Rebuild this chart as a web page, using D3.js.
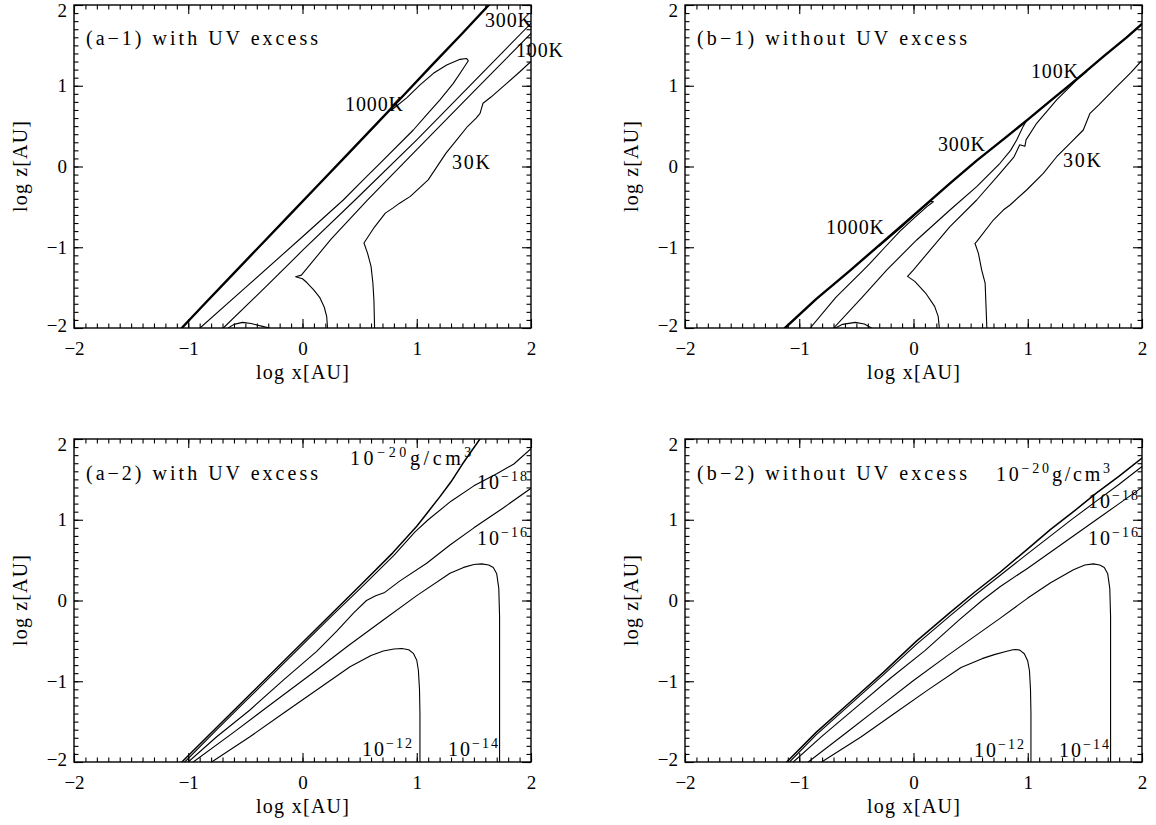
<!DOCTYPE html>
<html>
<head>
<meta charset="utf-8">
<script src="https://cdn.jsdelivr.net/npm/d3@7/dist/d3.min.js"></script>
<style>
html,body{margin:0;padding:0;background:#fff;}
svg{display:block;}
</style>
</head>
<body>
<svg id="chart" width="1156" height="825"></svg>
<script>
// ================= DATA =================
const xTickValues = [-2, -1, 0, 1, 2];
const xTickLabels = ["−2", "−1", "0", "1", "2"];
const yTickValues = [-2, -1, 0, 1, 2];
const yTickLabels = ["−2", "−1", "0", "1", "2"];
const xTitle = "log x[AU]";
const yTitle = "log z[AU]";

// (a-1) temperature contours, with UV excess   [log x, log z]
const a1Surface = [[-1.057,-2],[-0.85,-1.69],[-0.6,-1.32],[-0.35,-0.95],[-0.1,-0.58],[0.15,-0.21],[0.4,0.16],[0.65,0.53],[0.91,0.92],[1.15,1.28],[1.4,1.65],[1.631,2]];
const a1T1000 = [[-0.897,-2],[-0.5,-1.5],[0,-0.87],[0.357,-0.415],[0.532,-0.167],[0.678,0.039],[0.97,0.452],[1.086,0.638],[1.203,0.824],[1.32,1.03],[1.41,1.22],[1.451,1.31],[1.435,1.338],[1.379,1.327],[1.262,1.257],[1.146,1.154],[1.029,1.01],[0.912,0.85],[0.78,0.70]];
const a1T300 = [[-0.693,-2],[-0.3,-1.46],[0,-1.04],[0.46,-0.415],[1.0,0.33],[1.5,1.05],[2.0,1.773]];
const a1T100 = [[0.219,-2],[0.212,-1.86],[0.19,-1.74],[0.15,-1.62],[0.1,-1.53],[0.04,-1.44],[0.0,-1.39],[-0.06,-1.365],[-0.01,-1.345],[0.25,-0.9],[0.568,-0.415],[1.0,0.21],[1.5,0.93],[2.0,1.649]];
const a1T30 = [[0.631,-2],[0.625,-1.65],[0.616,-1.443],[0.6,-1.237],[0.569,-1.072],[0.538,-0.948],[0.63,-0.75],[0.725,-0.577],[0.79,-0.515],[0.85,-0.454],[0.944,-0.37],[1.1,-0.165],[1.256,0.165],[1.35,0.33],[1.444,0.495],[1.52,0.6],[1.554,0.659],[1.58,0.783],[1.65,0.86],[1.787,1.03],[1.9,1.17],[2.0,1.3]];
const a1Arc = [[-0.65,-2],[-0.6,-1.955],[-0.525,-1.93],[-0.45,-1.945],[-0.35,-1.98],[-0.29,-2]];

// (b-1) temperature contours, without UV excess
const b1Surface = [[-1.125,-2],[-0.85,-1.64],[-0.556,-1.29],[-0.264,-0.93],[0.02,-0.58],[0.319,-0.21],[0.55,0.07],[0.816,0.37],[1.0,0.58],[1.195,0.81],[1.35,0.99],[1.486,1.15],[1.661,1.36],[1.866,1.6],[2.0,1.765]];
const b1T1000 = [[-0.904,-2],[-0.68,-1.62],[-0.439,-1.282],[-0.381,-1.2],[-0.25,-1.0],[-0.118,-0.8],[0.0,-0.645],[0.115,-0.5],[0.174,-0.436],[0.15,-0.43],[0.05,-0.55],[-0.1,-0.745],[-0.3,-0.985]];
const b1T300 = [[-0.699,-2],[-0.45,-1.62],[-0.235,-1.282],[0.028,-0.91],[0.319,-0.539],[0.553,-0.25],[0.757,0.04],[0.85,0.2],[0.903,0.328],[0.961,0.5],[0.99,0.57]];
const b1T100 = [[0.226,-2],[0.216,-1.856],[0.185,-1.732],[0.106,-1.567],[0.011,-1.423],[-0.052,-1.361],[-0.002,-1.282],[0.319,-0.745],[0.553,-0.415],[0.757,-0.084],[0.88,0.12],[0.93,0.27],[0.975,0.25],[0.985,0.33],[1.078,0.535],[1.253,0.824],[1.428,1.071],[1.516,1.174]];
const b1T30 = [[0.642,-2],[0.627,-1.443],[0.597,-1.282],[0.568,-1.075],[0.538,-0.951],[0.553,-0.931],[0.699,-0.663],[0.786,-0.539],[0.845,-0.477],[0.99,-0.291],[1.136,-0.084],[1.253,0.121],[1.37,0.287],[1.486,0.452],[1.545,0.659],[1.62,0.76],[1.779,0.988],[1.9,1.16],[1.997,1.31]];
const b1Arc = [[-0.684,-2],[-0.62,-1.955],[-0.51,-1.93],[-0.43,-1.95],[-0.368,-2]];

// (a-2) density contours, with UV excess
const a2D20 = [[-1.056,-2],[-0.75,-1.57],[-0.5,-1.22],[-0.25,-0.87],[0,-0.52],[0.25,-0.17],[0.5,0.18],[0.79,0.59],[1.0,0.92],[1.1,1.1],[1.2,1.28],[1.3,1.47],[1.4,1.69],[1.553,2]];
const a2D18 = [[-1.03,-2],[-0.75,-1.6],[-0.5,-1.25],[-0.25,-0.9],[0,-0.55],[0.25,-0.2],[0.5,0.14],[0.8,0.56],[0.985,0.85],[1.1,1.0],[1.3,1.23],[1.5,1.42],[1.7,1.57],[1.85,1.69],[2.0,1.88]];
const a2D16 = [[-1.0,-2],[-0.751,-1.687],[-0.46,-1.356],[-0.168,-0.985],[0.124,-0.63],[0.3,-0.38],[0.45,-0.15],[0.56,0.0],[0.64,0.06],[0.72,0.1],[0.85,0.24],[1.087,0.461],[1.291,0.687],[1.5,0.9],[1.75,1.14],[2.0,1.39]];
const a2D14 = [[-0.956,-2],[-0.6,-1.63],[-0.3,-1.31],[0.124,-0.861],[0.4,-0.56],[0.707,-0.241],[1.0,0.06],[1.291,0.337],[1.41,0.41],[1.5,0.445],[1.569,0.454],[1.63,0.44],[1.67,0.41],[1.7,0.33],[1.718,0.15],[1.725,-0.2],[1.725,-2]];
const a2D12 = [[-0.795,-2],[-0.46,-1.687],[-0.168,-1.397],[0.124,-1.108],[0.416,-0.82],[0.6,-0.68],[0.707,-0.625],[0.8,-0.6],[0.87,-0.595],[0.93,-0.61],[0.97,-0.654],[1.0,-0.74],[1.014,-0.861],[1.024,-1.1],[1.028,-1.4],[1.028,-2]];

// (b-2) density contours, without UV excess
const b2D20 = [[-1.11,-2],[-0.85,-1.63],[-0.556,-1.26],[-0.264,-0.89],[0.028,-0.5],[0.319,-0.15],[0.523,0.09],[0.757,0.35],[1.0,0.64],[1.2,0.88],[1.4,1.1],[1.6,1.33],[1.8,1.54],[2.0,1.765]];
const b2D18 = [[-1.085,-2],[-0.85,-1.66],[-0.556,-1.29],[-0.264,-0.92],[0.028,-0.54],[0.319,-0.19],[0.523,0.05],[0.757,0.31],[1.0,0.58],[1.2,0.8],[1.4,1.02],[1.6,1.23],[1.8,1.44],[2.0,1.66]];
const b2D16 = [[-1.052,-2],[-0.8,-1.68],[-0.5,-1.32],[-0.2,-0.96],[0.1,-0.62],[0.4,-0.24],[0.6,0.0],[0.757,0.171],[1.0,0.4],[1.3,0.7],[1.6,1.0],[1.8,1.2],[2.0,1.4]];
const b2D14 = [[-0.921,-2],[-0.6,-1.65],[-0.3,-1.32],[0.0,-0.99],[0.3,-0.68],[0.757,-0.221],[1.0,0.03],[1.2,0.22],[1.4,0.38],[1.5,0.44],[1.574,0.454],[1.63,0.44],[1.67,0.41],[1.7,0.33],[1.718,0.15],[1.725,-0.2],[1.725,-2]];
const b2D12 = [[-0.804,-2],[-0.46,-1.69],[-0.168,-1.4],[0.124,-1.11],[0.416,-0.83],[0.6,-0.72],[0.707,-0.67],[0.8,-0.635],[0.87,-0.61],[0.895,-0.606],[0.93,-0.615],[0.97,-0.66],[1.0,-0.75],[1.015,-0.87],[1.024,-1.1],[1.028,-1.4],[1.028,-2]];

// ================= LAYOUT =================
const FONT = "'Liberation Serif','Times New Roman',serif";
const W = 457, H = 323;
const THICK = 2.4, THIN = 1.1;

const panels = [
  { id: "a1", left: 74, top: 5,
    lines: [[a1Surface, THICK], [a1T1000, THIN], [a1T300, THIN], [a1T100, THIN], [a1T30, THIN], [a1Arc, THIN]],
    labels: [
      { parts: [["(a−1) with UV excess", 0]], dx: 12, dy: 40, len: 232 },
      { parts: [["1000K", 0]], dx: 271, dy: 106, len: 58 },
      { parts: [["300K", 0]], dx: 411, dy: 22, len: 47 },
      { parts: [["100K", 0]], dx: 442, dy: 52, len: 47 },
      { parts: [["30K", 0]], dx: 378, dy: 164, len: 38 }
    ] },
  { id: "b1", left: 685, top: 5,
    lines: [[b1Surface, THICK], [b1T1000, THIN], [b1T300, THIN], [b1T100, THIN], [b1T30, THIN], [b1Arc, THIN]],
    labels: [
      { parts: [["(b−1) without UV excess", 0]], dx: 12, dy: 40, len: 270 },
      { parts: [["1000K", 0]], dx: 141, dy: 229, len: 58 },
      { parts: [["300K", 0]], dx: 253, dy: 146, len: 47 },
      { parts: [["100K", 0]], dx: 346, dy: 73, len: 47 },
      { parts: [["30K", 0]], dx: 378, dy: 162, len: 38 }
    ] },
  { id: "a2", left: 74, top: 439,
    lines: [[a2D20, 1.5], [a2D18, THIN], [a2D16, THIN], [a2D14, THIN], [a2D12, THIN]],
    labels: [
      { parts: [["(a−2) with UV excess", 0]], dx: 12, dy: 41, len: 232 },
      { parts: [["10", 0], ["−20", 1], ["g/cm", 0], ["3", 1]], dx: 276, dy: 26, ls: 3.6 },
      { parts: [["10", 0], ["−18", 1]], dx: 403, dy: 50, ls: 2 },
      { parts: [["10", 0], ["−16", 1]], dx: 403, dy: 106, ls: 2 },
      { parts: [["10", 0], ["−12", 1]], dx: 288, dy: 317, ls: 2 },
      { parts: [["10", 0], ["−14", 1]], dx: 374, dy: 317, ls: 2 }
    ] },
  { id: "b2", left: 685, top: 439,
    lines: [[b2D20, 1.5], [b2D18, THIN], [b2D16, THIN], [b2D14, THIN], [b2D12, THIN]],
    labels: [
      { parts: [["(b−2) without UV excess", 0]], dx: 12, dy: 41, len: 270 },
      { parts: [["10", 0], ["−20", 1], ["g/cm", 0], ["3", 1]], dx: 311, dy: 42, ls: 2.8 },
      { parts: [["10", 0], ["−18", 1]], dx: 403, dy: 69, ls: 2 },
      { parts: [["10", 0], ["−16", 1]], dx: 403, dy: 106, ls: 2 },
      { parts: [["10", 0], ["−12", 1]], dx: 289, dy: 318, ls: 2 },
      { parts: [["10", 0], ["−14", 1]], dx: 374, dy: 318, ls: 2 }
    ] }
];

// ================= DRAW =================
const svg = d3.select("#chart");
svg.append("rect").attr("width", 1156).attr("height", 825).attr("fill", "#fff");

const minorTicks = d3.range(-20, 21).map(i => i / 10);

function styleAxis(sel) {
  sel.select(".domain").remove();
  sel.selectAll("line").attr("stroke", "#000").attr("stroke-width", 1.1);
  sel.attr("font-family", FONT);
}

function drawLabel(g, L) {
  const t = g.append("text").attr("x", L.dx).attr("y", L.dy)
    .attr("font-family", FONT).attr("font-size", 20).attr("fill", "#000");
  if (L.len) {
    t.text(L.parts[0][0]).attr("textLength", L.len).attr("lengthAdjust", "spacing");
    return;
  }
  t.attr("letter-spacing", L.ls || 0);
  let up = false;
  L.parts.forEach(([s, sup]) => {
    const ts = t.append("tspan").text(s);
    if (sup) { ts.attr("font-size", 14); if (!up) { ts.attr("dy", -8); up = true; } }
    else if (up) { ts.attr("dy", 8); up = false; }
  });
}

panels.forEach(p => {
  const g = svg.append("g").attr("transform", `translate(${p.left},${p.top})`);
  const x = d3.scaleLinear().domain([-2, 2]).range([0, W]);
  const y = d3.scaleLinear().domain([-2, 2]).range([H, 0]);

  const cid = "clip-" + p.id;
  g.append("clipPath").attr("id", cid).append("rect").attr("width", W).attr("height", H);

  const line = d3.line().x(d => x(d[0])).y(d => y(d[1]));
  const lg = g.append("g").attr("clip-path", `url(#${cid})`);
  p.lines.forEach(([data, w]) => {
    lg.append("path").attr("d", line(data)).attr("fill", "none")
      .attr("stroke", "#000").attr("stroke-width", w)
      .attr("stroke-linejoin", "round").attr("stroke-linecap", "round");
  });

  // major ticks with labels (bottom, left)
  g.append("g").attr("transform", `translate(0,${H})`)
    .call(d3.axisBottom(x).tickValues(xTickValues).tickSize(-9).tickPadding(13.5)
      .tickFormat((d, i) => xTickLabels[i]))
    .call(styleAxis)
    .selectAll("text").attr("font-size", 19).attr("fill", "#000");
  g.append("g")
    .call(d3.axisLeft(y).tickValues(yTickValues).tickSize(-9).tickPadding(7)
      .tickFormat((d, i) => yTickLabels[i]))
    .call(styleAxis)
    .selectAll("text").attr("font-size", 19).attr("fill", "#000")
    .attr("dy", d => d === 2 ? "0.62em" : (d === -2 ? "0.18em" : "0.32em"));
  // mirrored major ticks (top, right)
  g.append("g").call(d3.axisTop(x).tickValues(xTickValues).tickSize(-9).tickFormat(""))
    .call(styleAxis);
  g.append("g").attr("transform", `translate(${W},0)`)
    .call(d3.axisRight(y).tickValues(yTickValues).tickSize(-9).tickFormat(""))
    .call(styleAxis);
  // minor ticks on all sides
  g.append("g").attr("transform", `translate(0,${H})`)
    .call(d3.axisBottom(x).tickValues(minorTicks).tickSize(-4.5).tickFormat("")).call(styleAxis);
  g.append("g")
    .call(d3.axisTop(x).tickValues(minorTicks).tickSize(-4.5).tickFormat("")).call(styleAxis);
  g.append("g")
    .call(d3.axisLeft(y).tickValues(minorTicks).tickSize(-4.5).tickFormat("")).call(styleAxis);
  g.append("g").attr("transform", `translate(${W},0)`)
    .call(d3.axisRight(y).tickValues(minorTicks).tickSize(-4.5).tickFormat("")).call(styleAxis);

  // frame
  g.append("rect").attr("width", W).attr("height", H)
    .attr("fill", "none").attr("stroke", "#000").attr("stroke-width", 1.4);

  // axis titles
  g.append("text").attr("x", W / 2).attr("y", H + 51)
    .attr("text-anchor", "middle").attr("font-family", FONT).attr("font-size", 20)
    .attr("textLength", 93).attr("lengthAdjust", "spacing").text(xTitle);
  g.append("text").attr("transform", `translate(-47,${H / 2}) rotate(-90)`)
    .attr("text-anchor", "middle").attr("font-family", FONT).attr("font-size", 20)
    .attr("textLength", 91).attr("lengthAdjust", "spacing").text(yTitle);

  // panel title and contour labels
  p.labels.forEach(L => drawLabel(g, L));
});
</script>
</body>
</html>
